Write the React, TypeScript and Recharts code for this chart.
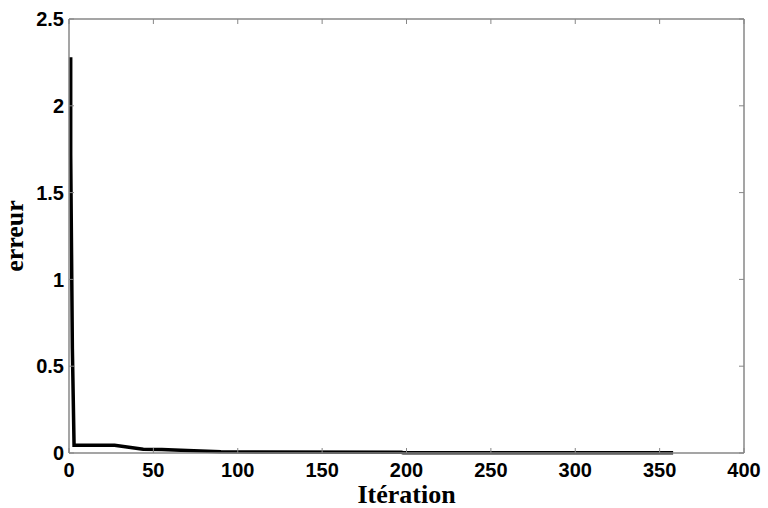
import React from 'react';
import { LineChart, Line, XAxis, YAxis } from 'recharts';

const iterations = [1, 1, 2, 3, 27, 44, 55, 70, 90, 197, 198, 358];
const erreur = [2.28, 1.72, 0.6, 0.045, 0.045, 0.022, 0.02, 0.014, 0.007, 0.004, 0.0015, 0.0012];
const xTicks = [0, 50, 100, 150, 200, 250, 300, 350, 400];
const yTicks = [0, 0.5, 1, 1.5, 2, 2.5];

const data = iterations.map((it, i) => ({ it, e: erreur[i] }));

const FRAME = '#878787';
const TICK_FONT = 'Liberation Sans, Arial, sans-serif';
const TITLE_FONT = 'Liberation Serif, Times New Roman, serif';

const XTickBottom = (props: any) => {
  const { x, y, payload } = props;
  return (
    <g>
      <line x1={x} x2={x} y1={y} y2={y - 5} stroke={FRAME} strokeWidth={1} />
      <text x={x} y={y + 24} textAnchor="middle" fontSize={20} fontWeight="bold" fontFamily={TICK_FONT} fill="#000">
        {payload.value}
      </text>
    </g>
  );
};

const XTickTop = (props: any) => {
  const { x, y } = props;
  return <line x1={x} x2={x} y1={y} y2={y + 5} stroke={FRAME} strokeWidth={1} />;
};

const YTickLeft = (props: any) => {
  const { x, y, payload } = props;
  return (
    <g>
      <line x1={x} x2={x + 5} y1={y} y2={y} stroke={FRAME} strokeWidth={1} />
      <text x={x - 5} y={y} dy="0.36em" textAnchor="end" fontSize={20} fontWeight="bold" fontFamily={TICK_FONT} fill="#000">
        {payload.value}
      </text>
    </g>
  );
};

const YTickRight = (props: any) => {
  const { x, y } = props;
  return <line x1={x} x2={x - 5} y1={y} y2={y} stroke={FRAME} strokeWidth={1} />;
};

const XTitle = (props: any) => {
  const vb = props.viewBox || {};
  return (
    <text x={vb.x + vb.width / 2} y={vb.y + 50} textAnchor="middle" fontSize={26} fontWeight="bold" fontFamily={TITLE_FONT} fill="#000">
      Itération
    </text>
  );
};

const YTitle = (props: any) => {
  const vb = props.viewBox || {};
  const cx = 23;
  const cy = vb.y + vb.height / 2;
  return (
    <text x={cx} y={cy} transform={`rotate(-90, ${cx}, ${cy})`} textAnchor="middle" fontSize={26} fontWeight="bold" fontFamily={TITLE_FONT} fill="#000">
      erreur
    </text>
  );
};

export default function App() {
  return (
    <div style={{ position: 'absolute', left: 0, top: 0, background: '#fff' }}>
      <LineChart width={768} height={508} data={data} margin={{ top: 18, right: 23, left: 0, bottom: 0 }}>
        <XAxis
          dataKey="it"
          type="number"
          domain={[0, 400]}
          ticks={xTicks}
          interval={0}
          height={55}
          tickSize={0}
          tickMargin={0}
          tickLine={false}
          axisLine={{ stroke: FRAME, strokeWidth: 1.5 }}
          tick={<XTickBottom />}
          label={XTitle}
        />
        <XAxis
          xAxisId="top"
          dataKey="it"
          orientation="top"
          type="number"
          domain={[0, 400]}
          ticks={xTicks}
          interval={0}
          height={1}
          tickSize={0}
          tickMargin={0}
          tickLine={false}
          axisLine={{ stroke: FRAME, strokeWidth: 1.5 }}
          tick={<XTickTop />}
        />
        <YAxis
          type="number"
          domain={[0, 2.5]}
          ticks={yTicks}
          interval={0}
          width={69}
          tickSize={0}
          tickMargin={0}
          tickLine={false}
          axisLine={{ stroke: FRAME, strokeWidth: 1.5 }}
          tick={<YTickLeft />}
          label={YTitle}
        />
        <YAxis
          yAxisId="right"
          orientation="right"
          type="number"
          domain={[0, 2.5]}
          ticks={yTicks}
          interval={0}
          width={1}
          tickSize={0}
          tickMargin={0}
          tickLine={false}
          axisLine={{ stroke: FRAME, strokeWidth: 1.5 }}
          tick={<YTickRight />}
        />
        <Line
          xAxisId="top"
          yAxisId="right"
          dataKey="e"
          type="linear"
          stroke="none"
          strokeWidth={0}
          dot={false}
          activeDot={false}
          legendType="none"
          isAnimationActive={false}
        />
        <Line
          dataKey="e"
          type="linear"
          stroke="#000"
          strokeWidth={3.5}
          dot={false}
          activeDot={false}
          isAnimationActive={false}
        />
      </LineChart>
    </div>
  );
}
